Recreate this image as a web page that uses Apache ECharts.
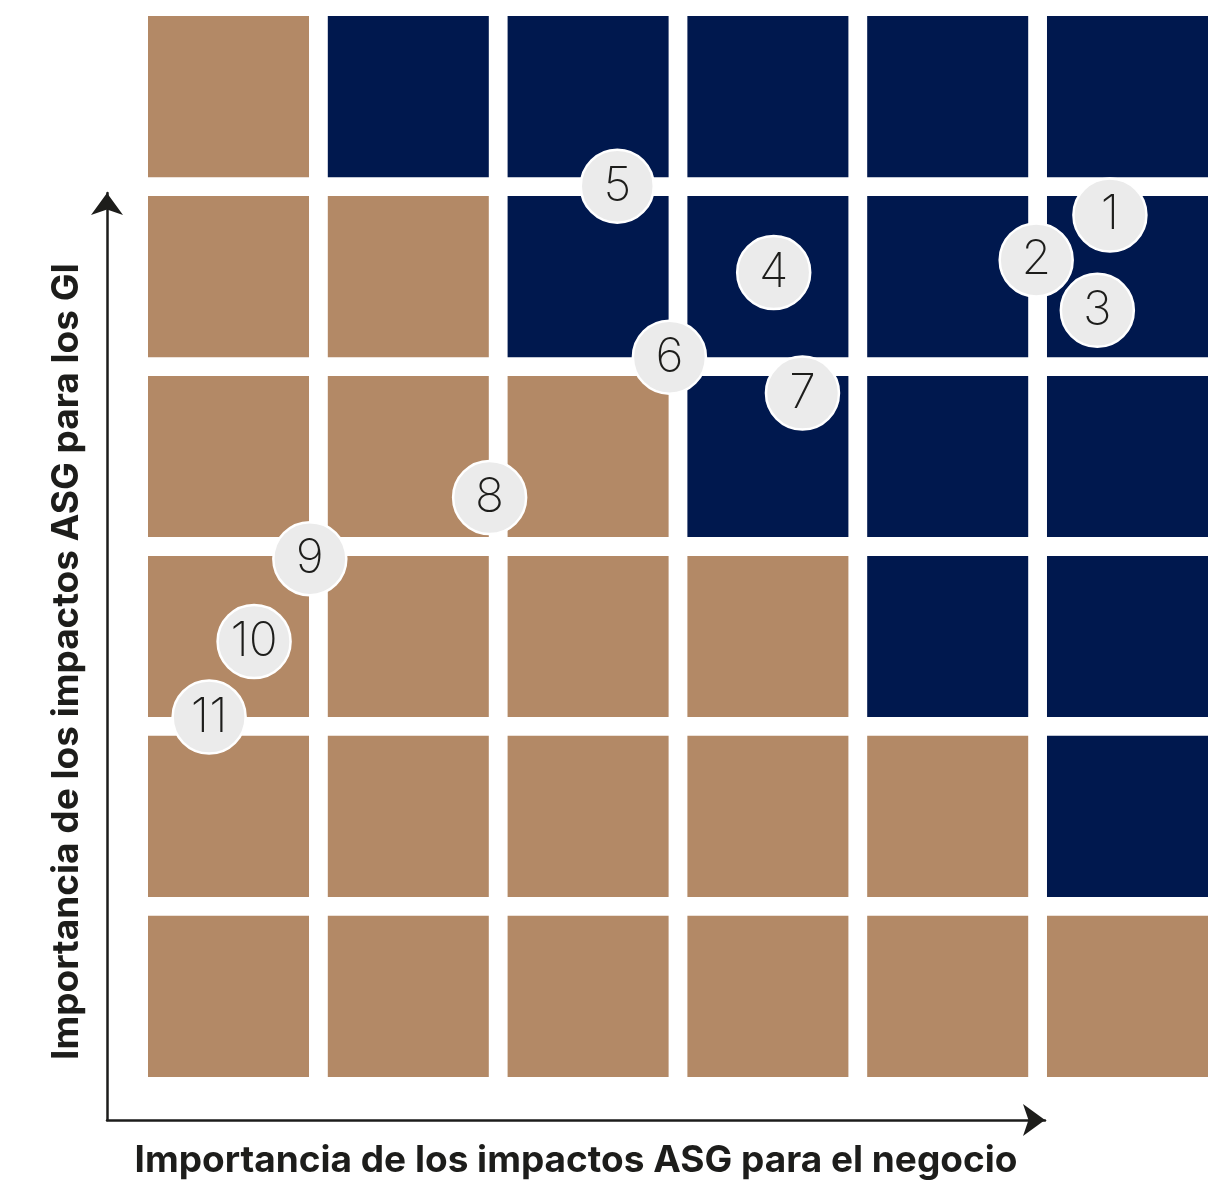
<!DOCTYPE html>
<html>
<head>
<meta charset="utf-8">
<script src="https://cdn.jsdelivr.net/npm/echarts@6/dist/echarts.min.js"></script>
<style>
  html, body { margin: 0; padding: 0; background: #fff; }
  #chart { width: 1224px; height: 1184px; }
</style>
</head>
<body>
<div id="chart"></div>
<script>
// niveles de importancia (columnas = negocio, filas = GI, fila 0 abajo)
const levels = [0, 1, 2, 3, 4, 5];
// zona de cada celda por fila (de abajo hacia arriba): 0 = marrón, 1 = azul
const zoneRows = [
  [0, 0, 0, 0, 0, 0],
  [0, 0, 0, 0, 0, 1],
  [0, 0, 0, 0, 1, 1],
  [0, 0, 0, 1, 1, 1],
  [0, 0, 1, 1, 1, 1],
  [0, 1, 1, 1, 1, 1]
];
// temas materiales
const topicIds = ['1', '2', '3', '4', '5', '6', '7', '8', '9', '10', '11'];
const topicBusiness = [5.35, 4.94, 5.28, 3.48, 2.61, 2.90, 3.64, 1.90, 0.90, 0.59, 0.34];
const topicStakeholders = [4.79, 4.54, 4.26, 4.47, 4.95, 4.00, 3.80, 3.22, 2.88, 2.42, 2.00];

const zoneColors = ['#b38966', '#00184e'];
const cellSpan = 0.8955; // ancho de cada cuadro en unidades de nivel

const cells = [];
zoneRows.forEach((row, r) => {
  row.forEach((z, c) => cells.push([levels[c], levels[r], z]));
});
const bubbles = topicIds.map((id, i) => ({ name: id, value: [topicBusiness[i], topicStakeholders[i]] }));

const chart = echarts.init(document.getElementById('chart'));
const option = {
  animation: false,
  grid: [
    { left: 148, top: 16, width: 1060, height: 1061, outerBoundsMode: 'none', containLabel: false },
    { left: 107, top: 193, width: 938, height: 927, outerBoundsMode: 'none', containLabel: false }
  ],
  xAxis: [
    { type: 'value', gridIndex: 0, min: 0, max: 5 + cellSpan, show: false },
    {
      type: 'value', gridIndex: 1, min: 0, max: 1,
      name: 'Importancia de los impactos ASG para el negocio',
      nameLocation: 'middle', nameGap: 22,
      nameTextStyle: { fontFamily: 'Inter', fontWeight: 700, fontSize: 37, color: '#1d1d1b' },
      axisLine: { show: true, symbol: ['none', 'arrow'], symbolSize: [24, 22], lineStyle: { color: '#1d1d1b', width: 2.5 } },
      axisTick: { show: false }, axisLabel: { show: false }, splitLine: { show: false }
    }
  ],
  yAxis: [
    { type: 'value', gridIndex: 0, min: 0, max: 5 + cellSpan, show: false },
    {
      type: 'value', gridIndex: 1, min: 0, max: 1,
      name: 'Importancia de los impactos ASG para los GI',
      nameLocation: 'middle', nameGap: 22,
      nameTextStyle: { fontFamily: 'Inter', fontWeight: 700, fontSize: 37, color: '#1d1d1b', padding: [0, 10, 0, 0] },
      axisLine: { show: true, symbol: ['none', 'arrow'], symbolSize: [24, 22], lineStyle: { color: '#1d1d1b', width: 2.5 } },
      axisTick: { show: false }, axisLabel: { show: false }, splitLine: { show: false }
    }
  ],
  series: [
    {
      type: 'custom',
      xAxisIndex: 0, yAxisIndex: 0,
      data: cells,
      silent: true,
      renderItem: function (params, api) {
        const p = api.coord([api.value(0), api.value(1) + cellSpan]);
        const s = api.size([cellSpan, cellSpan]);
        return {
          type: 'rect',
          shape: { x: p[0], y: p[1], width: s[0], height: s[1] },
          style: { fill: zoneColors[api.value(2)] }
        };
      },
      z: 1
    },
    {
      type: 'scatter',
      xAxisIndex: 0, yAxisIndex: 0,
      data: bubbles,
      symbolSize: 73,
      itemStyle: { color: '#ebebeb', borderColor: '#ffffff', borderWidth: 2.5, opacity: 1 },
      label: {
        show: true, position: 'inside', formatter: '{b}',
        fontFamily: 'Inter', fontWeight: 200, fontSize: 48, color: '#1d1d1b'
      },
      z: 5
    }
  ]
};
chart.setOption(option);
</script>
</body>
</html>
